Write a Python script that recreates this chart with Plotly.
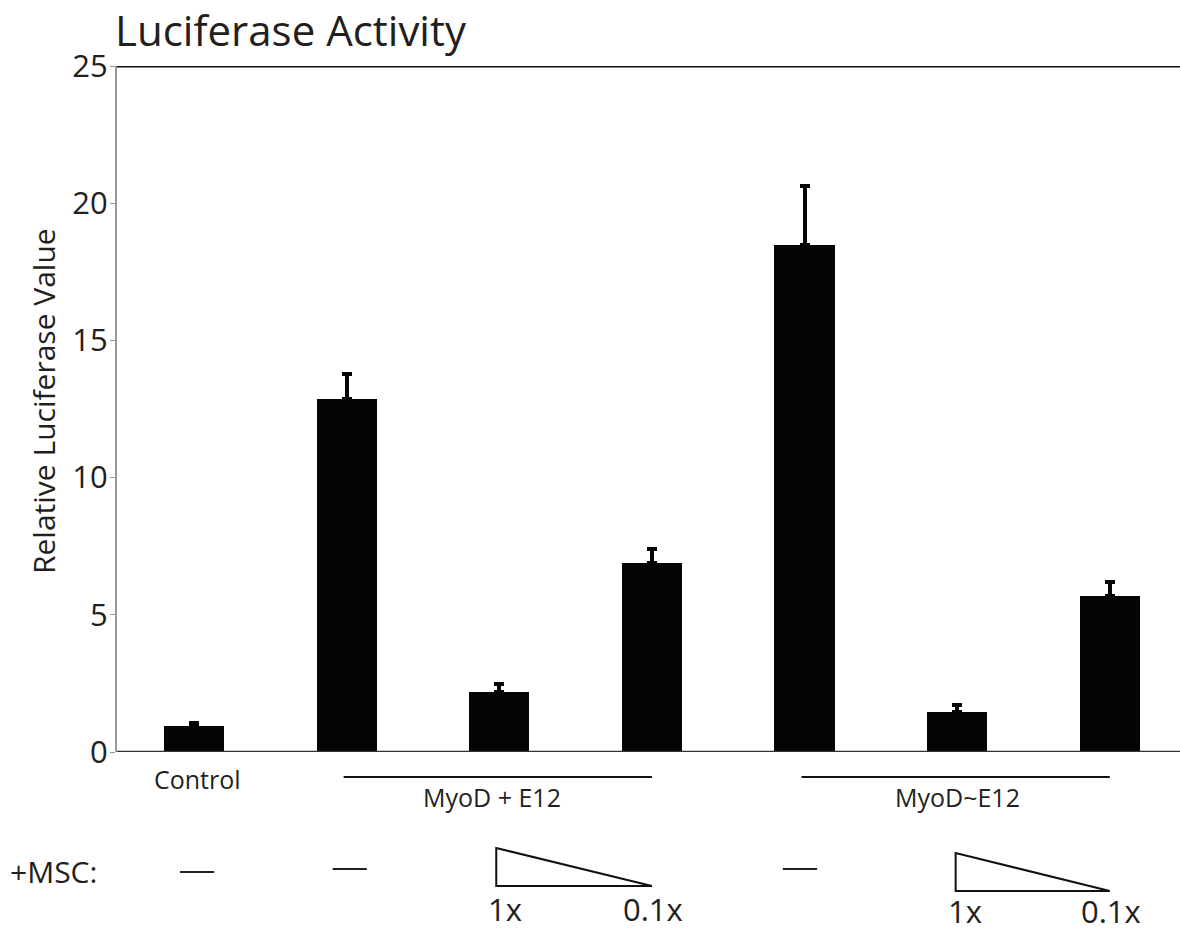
import plotly.graph_objects as go

categories = ["Control", "MyoD+E12 -", "MyoD+E12 1x", "MyoD+E12 0.1x",
              "MyoD~E12 -", "MyoD~E12 1x", "MyoD~E12 0.1x"]
values = [0.95, 12.85, 2.19, 6.88, 18.47, 1.46, 5.69]
errors = [0.11, 0.91, 0.29, 0.52, 2.15, 0.24, 0.51]
yticks = [0, 5, 10, 15, 20, 25]

FONT = "Open Sans"
TXT = "#231f20"

x = list(range(len(categories)))

fig = go.Figure()
fig.add_trace(go.Bar(
    x=x, y=values, width=0.395,
    marker=dict(color="#050505", line=dict(width=0)),
    error_y=dict(type="data", array=errors, arrayminus=[0] * len(errors),
                 symmetric=False, color="#050505", thickness=4, width=5),
    showlegend=False,
))

fig.update_layout(
    width=1180, height=933,
    margin=dict(l=117, r=0, t=66, b=181),
    plot_bgcolor="white", paper_bgcolor="white",
    font=dict(family=FONT, color=TXT),
    title=dict(text="Luciferase Activity", x=115 / 1180, xanchor="left",
               y=1 - 31 / 933, yanchor="middle",
               font=dict(size=42, family=FONT, color=TXT)),
    xaxis=dict(range=[-0.505, 6.46], showticklabels=False, ticks="",
               showgrid=False, zeroline=False, showline=False, fixedrange=True),
    yaxis=dict(range=[0, 25], tickvals=yticks, ticks="outside", ticklen=5,
               tickcolor="#999999", tickwidth=1, ticklabelstandoff=-4,
               showgrid=False, zeroline=False, showline=True, linecolor="#999999",
               linewidth=2, tickfont=dict(size=31, family=FONT, color=TXT),
               fixedrange=True),
    bargap=0,
)

shapes = []
# baseline and top line
shapes.append(dict(type="line", xref="paper", yref="y", x0=0, x1=1, y0=0, y1=0,
                   line=dict(color="#333333", width=2.5)))
shapes.append(dict(type="line", xref="paper", yref="y", x0=0, x1=1, y0=25, y1=25,
                   line=dict(color="#111111", width=3)))

def py(p):
    return (752 - p) / 686.0

# group lines
for a, b in [(0.98, 3.0), (3.98, 6.0)]:
    shapes.append(dict(type="line", xref="x", yref="paper", x0=a, x1=b,
                       y0=py(777), y1=py(777), line=dict(color="#111111", width=2)))
# dashes for no MSC
for cx, yy in [(0.02, 872), (1.02, 869), (3.97, 869)]:
    shapes.append(dict(type="line", xref="x", yref="paper", x0=cx - 0.112, x1=cx + 0.112,
                       y0=py(yy), y1=py(yy), line=dict(color="#222222", width=2)))
# triangles
for a, b, top, bot in [(1.98, 3.0, 848, 886), (4.99, 6.0, 853, 891)]:
    shapes.append(dict(type="path", xref="x", yref="paper",
                       path=f"M {a} {py(top)} L {a} {py(bot)} L {b} {py(bot)} Z",
                       line=dict(color="#111111", width=2), fillcolor="white"))
fig.update_layout(shapes=shapes)

ann = []
ann.append(dict(text="Relative Luciferase Value", xref="paper", yref="paper",
                x=(43 - 117) / 1063, y=py(401), textangle=-90, showarrow=False,
                xanchor="center", yanchor="middle",
                font=dict(size=30, family=FONT, color=TXT)))
ann.append(dict(text="Control", xref="x", yref="paper", x=0.02, y=py(779),
                showarrow=False, xanchor="center", yanchor="middle",
                font=dict(size=25, family=FONT, color=TXT)))
ann.append(dict(text="MyoD + E12", xref="x", yref="paper", x=1.95, y=py(797),
                showarrow=False, xanchor="center", yanchor="middle",
                font=dict(size=25, family=FONT, color=TXT)))
ann.append(dict(text="MyoD~E12", xref="x", yref="paper", x=5.0, y=py(797),
                showarrow=False, xanchor="center", yanchor="middle",
                font=dict(size=25, family=FONT, color=TXT)))
ann.append(dict(text="+MSC:", xref="paper", yref="paper", x=(8 - 117) / 1063, y=py(872),
                showarrow=False, xanchor="left", yanchor="middle",
                font=dict(size=30, family=FONT, color=TXT)))
for cx, lab, yy in [(2.04, "1x", 909), (3.01, "0.1x", 909), (5.05, "1x", 911), (6.01, "0.1x", 911)]:
    ann.append(dict(text=lab, xref="x", yref="paper", x=cx, y=py(yy),
                    showarrow=False, xanchor="center", yanchor="middle",
                    font=dict(size=31, family=FONT, color=TXT)))
fig.update_layout(annotations=ann)

fig.write_html("out.html")
